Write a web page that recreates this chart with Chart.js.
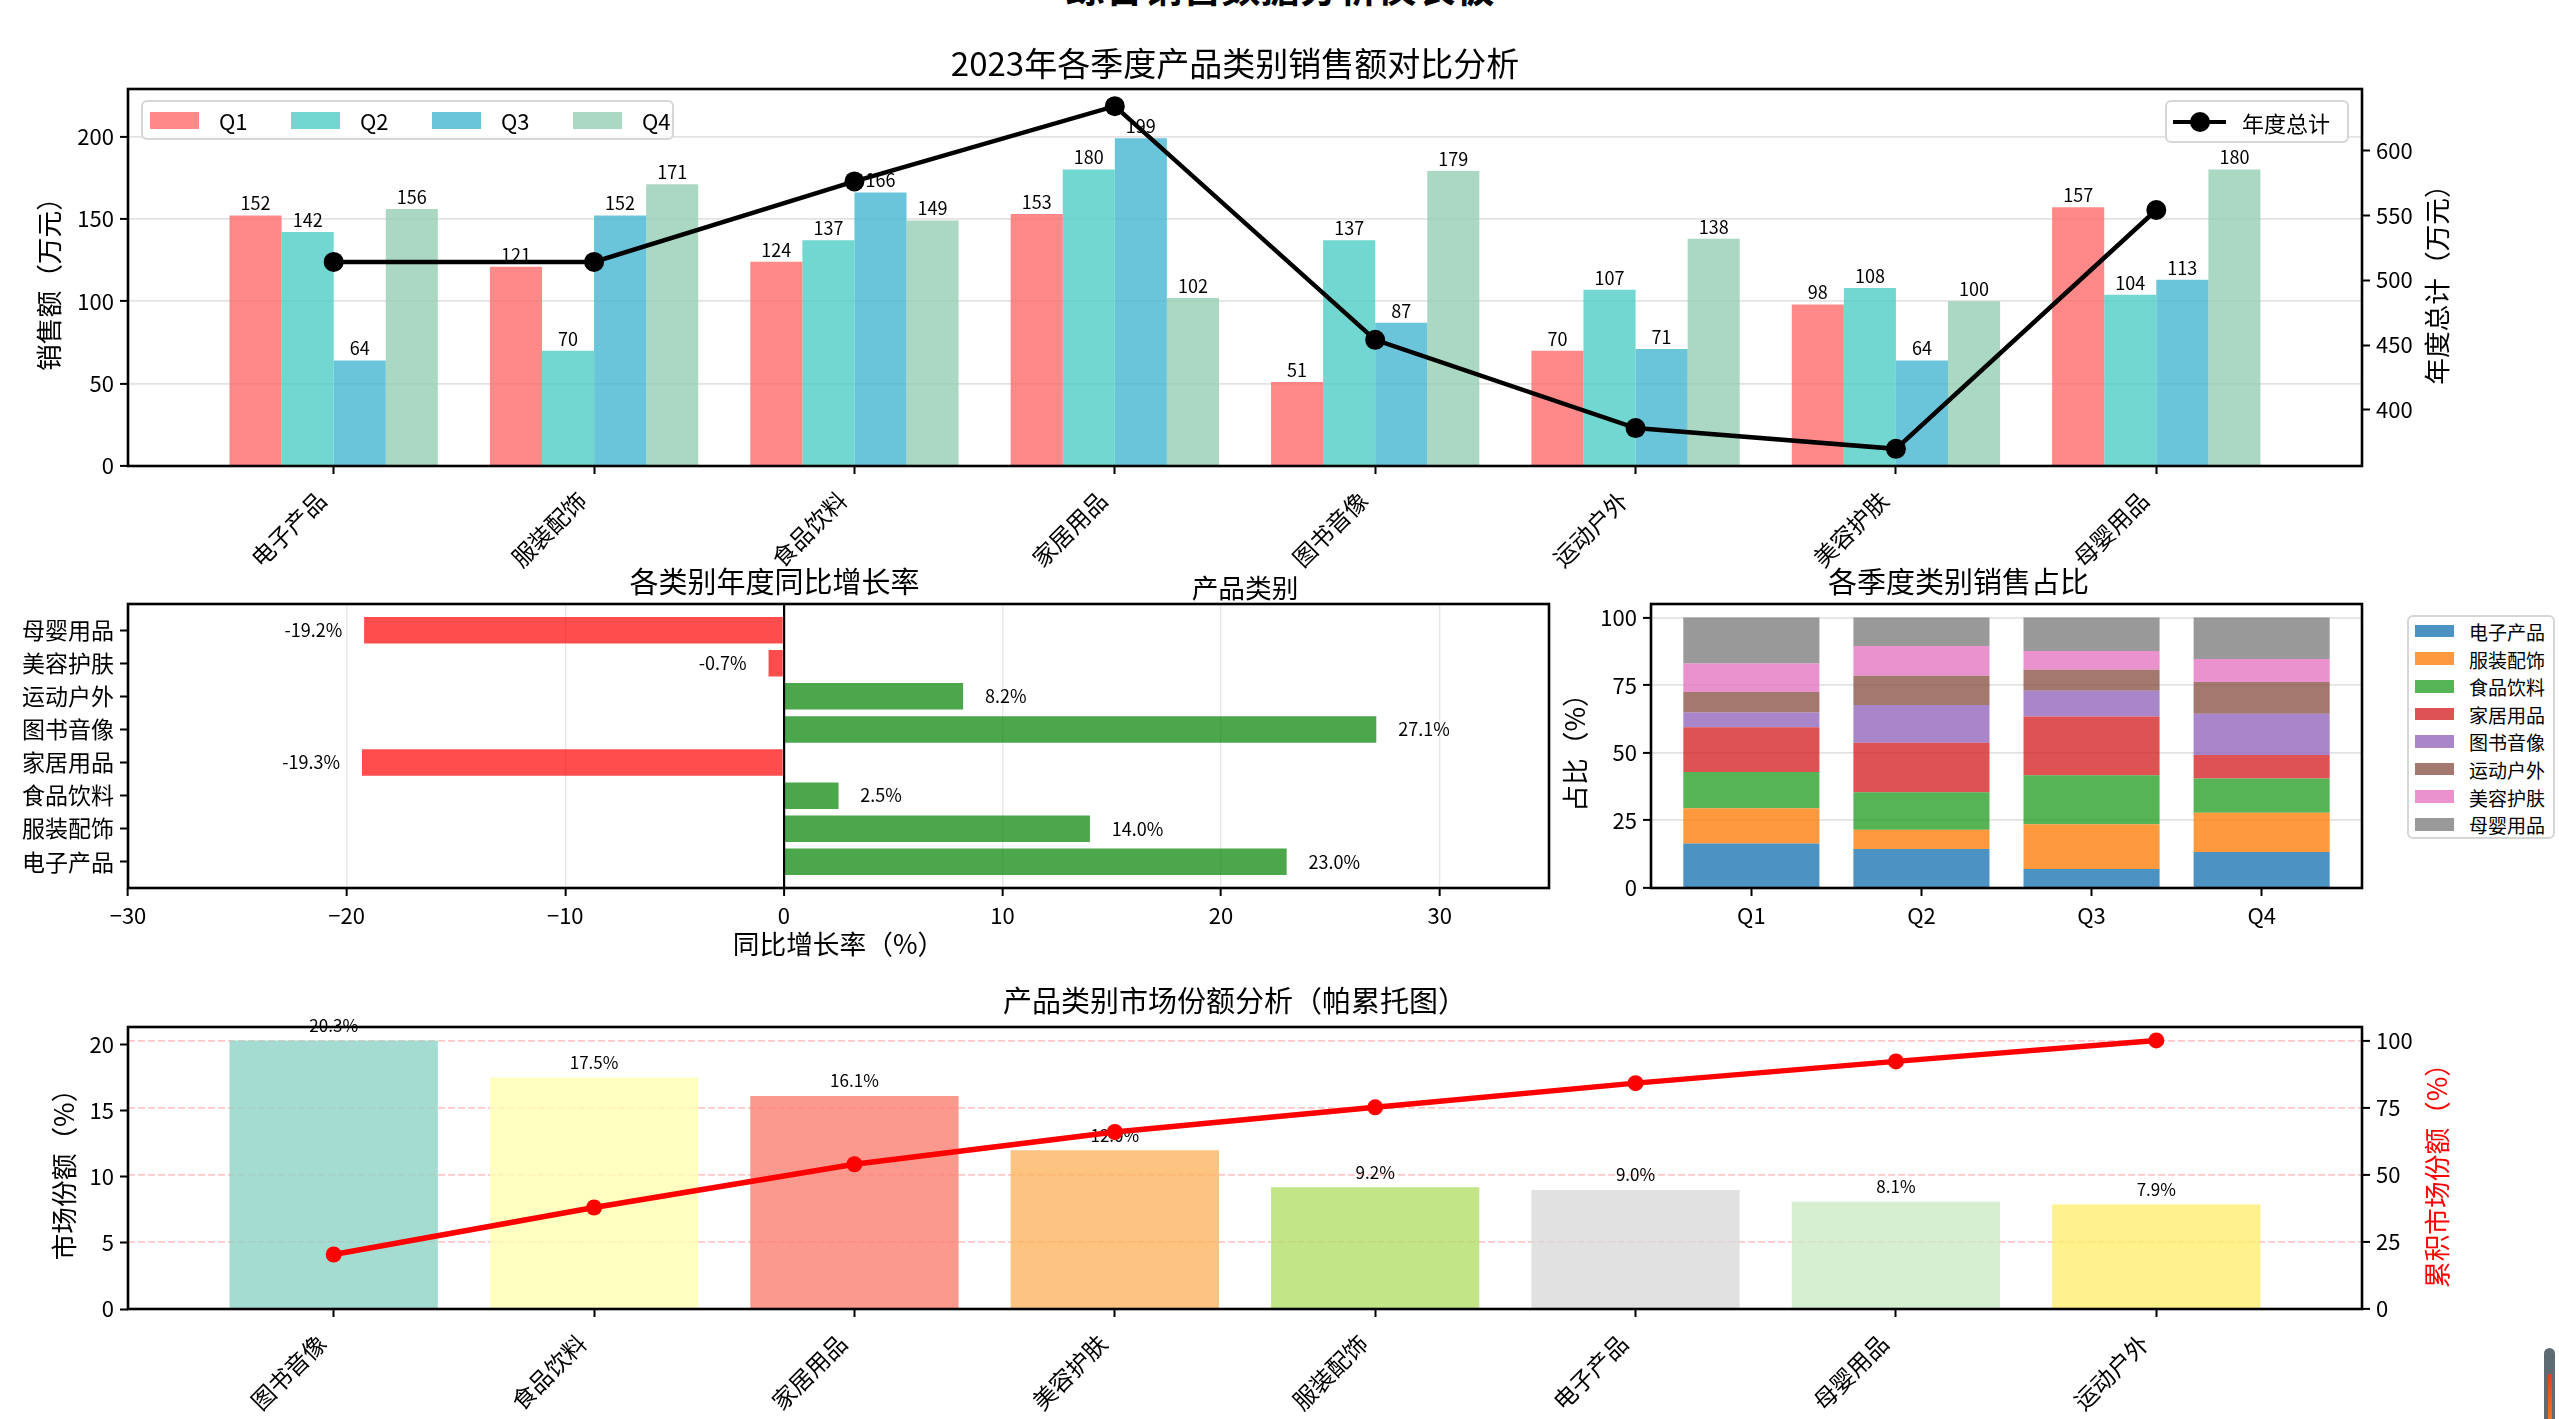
<!DOCTYPE html>
<html lang="zh-CN">
<head>
  <meta charset="UTF-8" />
  <title>综合销售数据分析仪表板</title>
  <script src="https://cdn.jsdelivr.net/npm/chart.js"></script>
  <style>
    html, body { margin: 0; padding: 0; background: #fff; }
    body { width: 2559px; height: 1419px; position: relative; overflow: hidden;
           font-family: "Noto Sans CJK SC", "Noto Sans", sans-serif; color: #000; }
    .panel { position: absolute; }
    .txt { position: absolute; white-space: nowrap; line-height: 1; }
    .legend { position: absolute; box-sizing: border-box; background: rgba(255,255,255,0.8);
              border: 2px solid #d6d6d6; border-radius: 6px; }
    .sw { position: absolute; }
  </style>
</head>
<body>
  <div class="panel" style="left:0;top:44px;width:2470px;height:560px"><canvas id="salesChart"></canvas></div>
  <div class="panel" style="left:0;top:565px;width:1561px;height:395px"><canvas id="growthChart"></canvas></div>
  <div class="panel" style="left:1555px;top:565px;width:819px;height:395px"><canvas id="shareChart"></canvas></div>
  <div class="panel" style="left:0;top:984px;width:2470px;height:435px"><canvas id="paretoChart"></canvas></div>

  <script>
    // ---- data ----
    const categories = ['电子产品', '服装配饰', '食品饮料', '家居用品', '图书音像', '运动户外', '美容护肤', '母婴用品'];
    const quarters = ['Q1', 'Q2', 'Q3', 'Q4'];
    const q1Sales = [152, 121, 124, 153, 51, 70, 98, 157];
    const q2Sales = [142, 70, 137, 180, 137, 107, 108, 104];
    const q3Sales = [64, 152, 166, 199, 87, 71, 64, 113];
    const q4Sales = [156, 171, 149, 102, 179, 138, 100, 180];
    const annualTotals = [514, 514, 576, 634, 454, 386, 370, 554];
    const growthRates = [23.0, 14.0, 2.5, -19.3, 27.1, 8.2, -0.7, -19.2];
    const paretoCategories = ['图书音像', '食品饮料', '家居用品', '美容护肤', '服装配饰', '电子产品', '母婴用品', '运动户外'];
    const marketShares = [20.3, 17.5, 16.1, 12.0, 9.2, 9.0, 8.1, 7.9];
    const cumulativeShares = [20.3, 37.8, 53.9, 65.9, 75.1, 84.1, 92.2, 100.0];

    const salesTicks = [0, 50, 100, 150, 200];
    const totalTicks = [400, 450, 500, 550, 600];
    const growthTicks = [-30, -20, -10, 0, 10, 20, 30];
    const shareTicks = [0, 25, 50, 75, 100];
    const paretoTicks = [0, 5, 10, 15, 20];
    const cumulativeTicks = [0, 25, 50, 75, 100];

    const quarterColors = ['#FF6B6B', '#4ECDC4', '#45B7D1', '#96CEB4'];
    const tab10 = ['#1f77b4', '#ff7f0e', '#2ca02c', '#d62728', '#9467bd', '#8c564b', '#e377c2', '#7f7f7f'];
    const set3 = ['#8dd3c7', '#ffffb3', '#fb8072', '#fdb462', '#b3de69', '#d9d9d9', '#ccebc5', '#ffed6f'];

    const FONT = '"Noto Sans CJK SC", "Noto Sans", sans-serif';
    Chart.defaults.font.family = FONT;
    Chart.defaults.color = '#000';
    Chart.defaults.animation = false;
    Chart.defaults.plugins.legend.display = false;
    Chart.defaults.plugins.tooltip.enabled = false;

    function rgba(hex, a) {
      const n = parseInt(hex.slice(1), 16);
      return `rgba(${n >> 16},${(n >> 8) & 255},${n & 255},${a})`;
    }
    function fixedTicks(list) {
      return scale => { scale.ticks = list.map(v => ({ value: v })); };
    }
    const indexTicks = n => Array.from({ length: n }, (_, i) => i);
    const tickMarks = { tickColor: '#000', tickLength: 8, tickWidth: 2 };
    const noGrid = Object.assign({ drawOnChartArea: false, offset: false, color: 'rgba(0,0,0,0)' }, tickMarks);
    const lightGrid = Object.assign({ color: 'rgba(176,176,176,0.35)', lineWidth: 1.8, offset: false }, tickMarks);

    // black box around every plot area, like the original spines
    const framePlugin = {
      id: 'frame',
      afterDatasetsDraw(chart) {
        const { ctx, chartArea: a } = chart;
        ctx.save();
        ctx.lineWidth = 2.6;
        ctx.strokeStyle = '#000';
        ctx.strokeRect(a.left, a.top, a.right - a.left, a.bottom - a.top);
        ctx.restore();
      }
    };

    function addText(text, cx, cy, size, opts = {}) {
      const d = document.createElement('div');
      d.className = 'txt';
      d.textContent = text;
      d.style.left = cx + 'px';
      d.style.top = cy + 'px';
      d.style.fontSize = size + 'px';
      let t = 'translate(' + (opts.left ? '0' : '-50%') + ', -50%)';
      if (opts.rotate) t += ' rotate(' + opts.rotate + 'deg)';
      d.style.transform = t;
      if (opts.color) d.style.color = opts.color;
      if (opts.bold) d.style.fontWeight = 'bold';
      document.body.appendChild(d);
    }
    function addBox(cls, l, t, w, h, bg) {
      const d = document.createElement('div');
      d.className = cls;
      Object.assign(d.style, { left: l + 'px', top: t + 'px', width: w + 'px', height: h + 'px' });
      if (bg) d.style.background = bg;
      document.body.appendChild(d);
      return d;
    }

    // ---- 1. quarterly sales + annual total ----
    const quarterSeries = [q1Sales, q2Sales, q3Sales, q4Sales];
    new Chart(document.getElementById('salesChart'), {
      type: 'bar',
      data: {
        datasets: [
          {
            type: 'line', label: '年度总计', yAxisID: 'y2', order: 0,
            data: annualTotals.map((v, i) => ({ x: i, y: v })),
            borderColor: '#000', borderWidth: 4.5, pointRadius: 10,
            pointBackgroundColor: '#000', pointBorderWidth: 0
          },
          ...quarterSeries.map((arr, k) => ({
            type: 'bar', label: quarters[k], yAxisID: 'y', order: 1,
            data: arr.map((v, i) => ({ x: i, y: v })),
            backgroundColor: rgba(quarterColors[k], 0.8),
            categoryPercentage: 0.8, barPercentage: 1
          }))
        ]
      },
      options: {
        responsive: true, maintainAspectRatio: false,
        plugins: {
          title: { display: true, text: '2023年各季度产品类别销售额对比分析', font: { size: 33, weight: 'normal' }, padding: { top: 0, bottom: 5.4 } }
        },
        scales: {
          x: {
            type: 'linear', min: -0.79, max: 7.79, offset: false,
            afterBuildTicks: fixedTicks(indexTicks(8)),
            afterFit: s => { s.height = 138; },
            ticks: { callback: v => categories[v], font: { size: 23.5 }, minRotation: 45, maxRotation: 45, autoSkip: false, padding: 12, labelOffset: -12 },
            grid: noGrid, border: { display: false },
            title: { display: true, text: '产品类别', font: { size: 26.7 }, padding: { top: 0, bottom: 0 } }
          },
          y: {
            position: 'left', min: 0, max: 228.85,
            afterBuildTicks: fixedTicks(salesTicks),
            afterFit: s => { s.width = 128; },
            ticks: { font: { size: 22 }, padding: 6 },
            grid: lightGrid, border: { display: false },
            title: { display: true, text: '销售额（万元）', font: { size: 26.7 }, padding: { top: 33, bottom: 0 } }
          },
          y2: {
            position: 'right', min: 356.8, max: 647.2,
            afterBuildTicks: fixedTicks(totalTicks),
            afterFit: s => { s.width = 108; },
            ticks: { font: { size: 22 }, padding: 6 },
            grid: noGrid, border: { display: false }
          }
        }
      },
      plugins: [framePlugin, {
        id: 'salesLabels',
        afterDatasetDraw(chart, args) {
          const meta = args.meta;
          if (meta.type !== 'bar') return;
          const values = quarterSeries[meta.index - 1];
          const ctx = chart.ctx;
          ctx.save();
          ctx.font = '18px ' + FONT;
          ctx.fillStyle = '#000';
          ctx.textAlign = 'center';
          ctx.textBaseline = 'bottom';
          meta.data.forEach((el, i) => ctx.fillText(String(values[i]), el.x, el.y - 3));
          ctx.restore();
        }
      }]
    });

    // ---- 2. year-on-year growth ----
    new Chart(document.getElementById('growthChart'), {
      type: 'bar',
      data: {
        datasets: [{
          data: growthRates.map((v, i) => ({ x: v, y: i })),
          backgroundColor: growthRates.map(v => v < 0 ? rgba('#ff0000', 0.7) : rgba('#008000', 0.7)),
          categoryPercentage: 0.8, barPercentage: 1
        }]
      },
      options: {
        indexAxis: 'y',
        responsive: true, maintainAspectRatio: false,
        layout: { padding: { right: 12 } },
        plugins: {
          title: { display: true, text: '各类别年度同比增长率', font: { size: 29, weight: 'normal' }, padding: { top: 0, bottom: 4.2 } }
        },
        scales: {
          y: {
            type: 'linear', min: -0.79, max: 7.79, offset: false,
            afterBuildTicks: fixedTicks(indexTicks(8)),
            afterFit: s => { s.width = 128; },
            ticks: { callback: v => categories[v], font: { size: 23 }, padding: 6 },
            grid: noGrid, border: { display: false }
          },
          x: {
            type: 'linear', min: -30, max: 35,
            afterBuildTicks: fixedTicks(growthTicks),
            afterFit: s => { s.height = 72; },
            ticks: { callback: v => (v < 0 ? '\u2212' + Math.abs(v) : String(v)), font: { size: 22 }, padding: 6, maxRotation: 0 },
            grid: Object.assign({}, tickMarks, {
              color: c => (c.tick && c.tick.value === 0 ? '#000' : 'rgba(176,176,176,0.3)'),
              lineWidth: c => (c.tick && c.tick.value === 0 ? 2.2 : 1.3)
            }),
            border: { display: false },
            title: { display: true, text: '同比增长率（%）', font: { size: 26.7 }, padding: { top: 0, bottom: 0 } }
          }
        }
      },
      plugins: [framePlugin, {
        id: 'growthLabels',
        afterDatasetsDraw(chart) {
          const meta = chart.getDatasetMeta(0);
          const xs = chart.scales.x;
          const ctx = chart.ctx;
          ctx.save();
          ctx.font = '18px ' + FONT;
          ctx.fillStyle = '#000';
          ctx.textBaseline = 'middle';
          meta.data.forEach((el, i) => {
            const v = growthRates[i];
            ctx.textAlign = v < 0 ? 'right' : 'left';
            ctx.fillText(v.toFixed(1) + '%', xs.getPixelForValue(v + (v < 0 ? -1 : 1)), el.y);
          });
          ctx.restore();
        }
      }]
    });

    // ---- 3. category share per quarter (100% stacked) ----
    const quarterTotals = quarterSeries.map(arr => arr.reduce((a, b) => a + b, 0));
    new Chart(document.getElementById('shareChart'), {
      type: 'bar',
      data: {
        datasets: categories.map((c, k) => ({
          label: c,
          data: quarters.map((q, j) => ({ x: j, y: quarterSeries[j][k] / quarterTotals[j] * 100 })),
          backgroundColor: rgba(tab10[k], 0.8),
          categoryPercentage: 0.8, barPercentage: 1
        }))
      },
      options: {
        responsive: true, maintainAspectRatio: false,
        layout: { padding: { right: 12 } },
        plugins: {
          title: { display: true, text: '各季度类别销售占比', font: { size: 29, weight: 'normal' }, padding: { top: 0, bottom: 4.2 } }
        },
        scales: {
          x: {
            type: 'linear', stacked: true, min: -0.59, max: 3.59, offset: false,
            afterBuildTicks: fixedTicks(indexTicks(4)),
            afterFit: s => { s.height = 72; },
            ticks: { callback: v => quarters[v], font: { size: 22 }, padding: 6, maxRotation: 0 },
            grid: noGrid, border: { display: false }
          },
          y: {
            stacked: true, min: 0, max: 105,
            afterBuildTicks: fixedTicks(shareTicks),
            afterFit: s => { s.width = 96; },
            ticks: { font: { size: 22 }, padding: 6 },
            grid: lightGrid, border: { display: false },
            title: { display: true, text: '占比（%）', font: { size: 26.7 }, padding: { top: 4, bottom: 0 } }
          }
        }
      },
      plugins: [framePlugin]
    });

    // ---- 4. pareto of market share ----
    new Chart(document.getElementById('paretoChart'), {
      type: 'bar',
      data: {
        datasets: [
          {
            type: 'line', yAxisID: 'y2', order: 0,
            data: cumulativeShares.map((v, i) => ({ x: i, y: v })),
            borderColor: '#ff0000', borderWidth: 5.5, pointRadius: 8,
            pointBackgroundColor: '#ff0000', pointBorderWidth: 0
          },
          {
            type: 'bar', yAxisID: 'y', order: 1,
            data: marketShares.map((v, i) => ({ x: i, y: v })),
            backgroundColor: set3.map(c => rgba(c, 0.8)),
            categoryPercentage: 0.8, barPercentage: 1
          }
        ]
      },
      options: {
        responsive: true, maintainAspectRatio: false,
        plugins: {
          title: { display: true, text: '产品类别市场份额分析（帕累托图）', font: { size: 29, weight: 'normal' }, padding: { top: 0, bottom: 8.2 } }
        },
        scales: {
          x: {
            type: 'linear', min: -0.79, max: 7.79, offset: false,
            afterBuildTicks: fixedTicks(indexTicks(8)),
            afterFit: s => { s.height = 110; },
            ticks: { callback: v => paretoCategories[v], font: { size: 23.5 }, minRotation: 45, maxRotation: 45, autoSkip: false, padding: 12, labelOffset: -12 },
            grid: noGrid, border: { display: false }
          },
          y: {
            position: 'left', min: 0, max: 21.315,
            afterBuildTicks: fixedTicks(paretoTicks),
            afterFit: s => { s.width = 128; },
            ticks: { font: { size: 22 }, padding: 6 },
            grid: noGrid, border: { display: false },
            title: { display: true, text: '市场份额（%）', font: { size: 26.7 }, padding: { top: 48, bottom: 0 } }
          },
          y2: {
            position: 'right', min: 0, max: 105,
            afterBuildTicks: fixedTicks(cumulativeTicks),
            afterFit: s => { s.width = 108; },
            ticks: { font: { size: 22 }, padding: 6 },
            grid: Object.assign({}, tickMarks, { color: 'rgba(255,0,0,0.22)', lineWidth: 1.8, offset: false }),
            border: { display: false, dash: [7, 3] }
          }
        }
      },
      plugins: [framePlugin, {
        id: 'paretoLabels',
        afterDatasetDraw(chart, args) {
          const meta = args.meta;
          if (meta.type !== 'bar') return;
          const ys = chart.scales.y;
          const ctx = chart.ctx;
          ctx.save();
          ctx.font = '17px ' + FONT;
          ctx.fillStyle = '#000';
          ctx.textAlign = 'center';
          ctx.textBaseline = 'bottom';
          meta.data.forEach((el, i) => {
            ctx.fillText(marketShares[i].toFixed(1) + '%', el.x, ys.getPixelForValue(marketShares[i] + 0.5));
          });
          ctx.restore();
        }
      }]
    });

    // ---- titles, right-hand axis titles and legends ----
    addText('综合销售数据分析仪表板', 1280, -15, 39, { bold: true });
    addText('年度总计（万元）', 2436, 278, 26.7, { rotate: -90 });
    addText('累积市场份额（%）', 2436, 1169, 26.7, { rotate: -90, color: '#ff0000' });

    addBox('legend', 141, 100, 533, 40);
    quarters.forEach((q, k) => {
      addBox('sw', 150 + 141 * k, 111.5, 49, 17, rgba(quarterColors[k], 0.8));
      addText(q, 219 + 141 * k, 120, 22, { left: true });
    });

    addBox('legend', 2165, 100, 184, 43);
    addBox('sw', 2173, 119.5, 53, 4.5, '#000');
    const dot = addBox('sw', 2190, 112, 20, 20, '#000');
    dot.style.borderRadius = '50%';
    addText('年度总计', 2242, 121.5, 22, { left: true });

    addBox('legend', 2407, 615, 148, 224);
    categories.forEach((c, k) => {
      const cy = 631 + 27.6 * k;
      addBox('sw', 2415, cy - 6.3, 39, 12.7, rgba(tab10[k], 0.8));
      addText(c, 2469, cy, 19, { left: true });
    });

    // small scrollbar-like mark in the bottom-right corner of the picture
    const bar = addBox('sw', 2544, 1348, 11, 80, '#5f6b73');
    bar.style.borderRadius = '6px';
    addBox('sw', 2547.5, 1374, 4, 50, 'linear-gradient(#e0402a, #f07b20)');
  </script>
</body>
</html>
